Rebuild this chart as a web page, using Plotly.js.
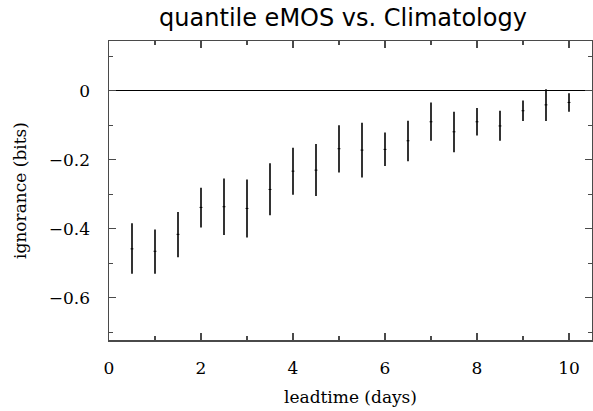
<!DOCTYPE html>
<html>
<head>
<meta charset="utf-8">
<script src="https://cdn.plot.ly/plotly-3.0.1.min.js"></script>
<style>html,body{margin:0;padding:0;background:#fff;}#chart{width:593px;height:411px;}</style>
</head>
<body>
<div id="chart"></div>
<script>
// lead time (days)
const leadtime = [0.5, 1.0, 1.5, 2.0, 2.5, 3.0, 3.5, 4.0, 4.5, 5.0, 5.5, 6.0, 6.5, 7.0, 7.5, 8.0, 8.5, 9.0, 9.5, 10.0];
// central estimate of ignorance difference (bits)
const ignMean = [-0.458, -0.465, -0.416, -0.338, -0.336, -0.341, -0.286, -0.233, -0.230, -0.168, -0.172, -0.170, -0.145, -0.090, -0.119, -0.090, -0.102, -0.058, -0.041, -0.034];
// upper end of interval
const ignUpper = [-0.384, -0.402, -0.351, -0.281, -0.254, -0.257, -0.210, -0.165, -0.154, -0.100, -0.093, -0.121, -0.087, -0.034, -0.061, -0.050, -0.058, -0.028, 0.004, -0.007];
// lower end of interval
const ignLower = [-0.530, -0.530, -0.482, -0.396, -0.418, -0.425, -0.361, -0.301, -0.305, -0.237, -0.251, -0.218, -0.204, -0.145, -0.178, -0.130, -0.145, -0.088, -0.088, -0.061];

const titleText = 'quantile eMOS vs. Climatology';
const xTitle = 'leadtime (days)';
const yTitle = 'ignorance (bits)';

const errPlus = ignUpper.map((u, i) => u - ignMean[i]);
const errMinus = ignMean.map((m, i) => m - ignLower[i]);

const serif = '"DejaVu Serif", serif';
const axisCol = '#4a4a4a';

const trace = {
  type: 'scatter',
  mode: 'markers',
  x: leadtime,
  y: ignMean,
  marker: {symbol: 'line-ew', size: 2, color: '#000', line: {color: '#000', width: 1}},
  error_y: {type: 'data', symmetric: false, array: errPlus, arrayminus: errMinus,
            width: 0, thickness: 1.6, color: '#000'},
  showlegend: false,
  hoverinfo: 'skip'
};

const layout = {
  width: 593, height: 411,
  margin: {l: 109, r: 1, t: 41, b: 71, pad: 0},
  paper_bgcolor: '#fff', plot_bgcolor: '#fff',
  title: {text: titleText, font: {family: '"DejaVu Sans", sans-serif', size: 24, color: '#000'},
          x: 343/593, xanchor: 'center', xref: 'container', y: 1 - 18/411, yanchor: 'middle', yref: 'container'},
  xaxis: {
    range: [0, 10.5], tick0: 0, dtick: 2, ticks: 'inside', ticklen: 7, tickwidth: 1.2, tickcolor: axisCol,
    minor: {dtick: 1, ticks: 'inside', ticklen: 4, tickwidth: 1.2, tickcolor: axisCol, showgrid: false},
    showline: true, linecolor: axisCol, linewidth: 1.5, mirror: 'allticks',
    showgrid: false, zeroline: false, ticklabelstandoff: 12,
    tickfont: {family: serif, size: 17, color: '#000'},
    title: {text: xTitle, font: {family: serif, size: 17, color: '#000'}, standoff: 14}
  },
  yaxis: {
    range: [-0.722, 0.144], tick0: 0, dtick: 0.2, ticks: 'inside', ticklen: 7, tickwidth: 1.2, tickcolor: axisCol,
    minor: {dtick: 0.1, ticks: 'inside', ticklen: 4, tickwidth: 1.2, tickcolor: axisCol, showgrid: false},
    showline: true, linecolor: axisCol, linewidth: 1.5, mirror: 'allticks',
    showgrid: false, zeroline: true, zerolinecolor: '#000', zerolinewidth: 1.3,
    ticklabelstandoff: 14,
    tickfont: {family: serif, size: 17, color: '#000'},
    title: {text: yTitle, font: {family: serif, size: 17, color: '#000'}, standoff: 18}
  }
};

Plotly.newPlot('chart', [trace], layout, {staticPlot: true, displayModeBar: false});
</script>
</body>
</html>
